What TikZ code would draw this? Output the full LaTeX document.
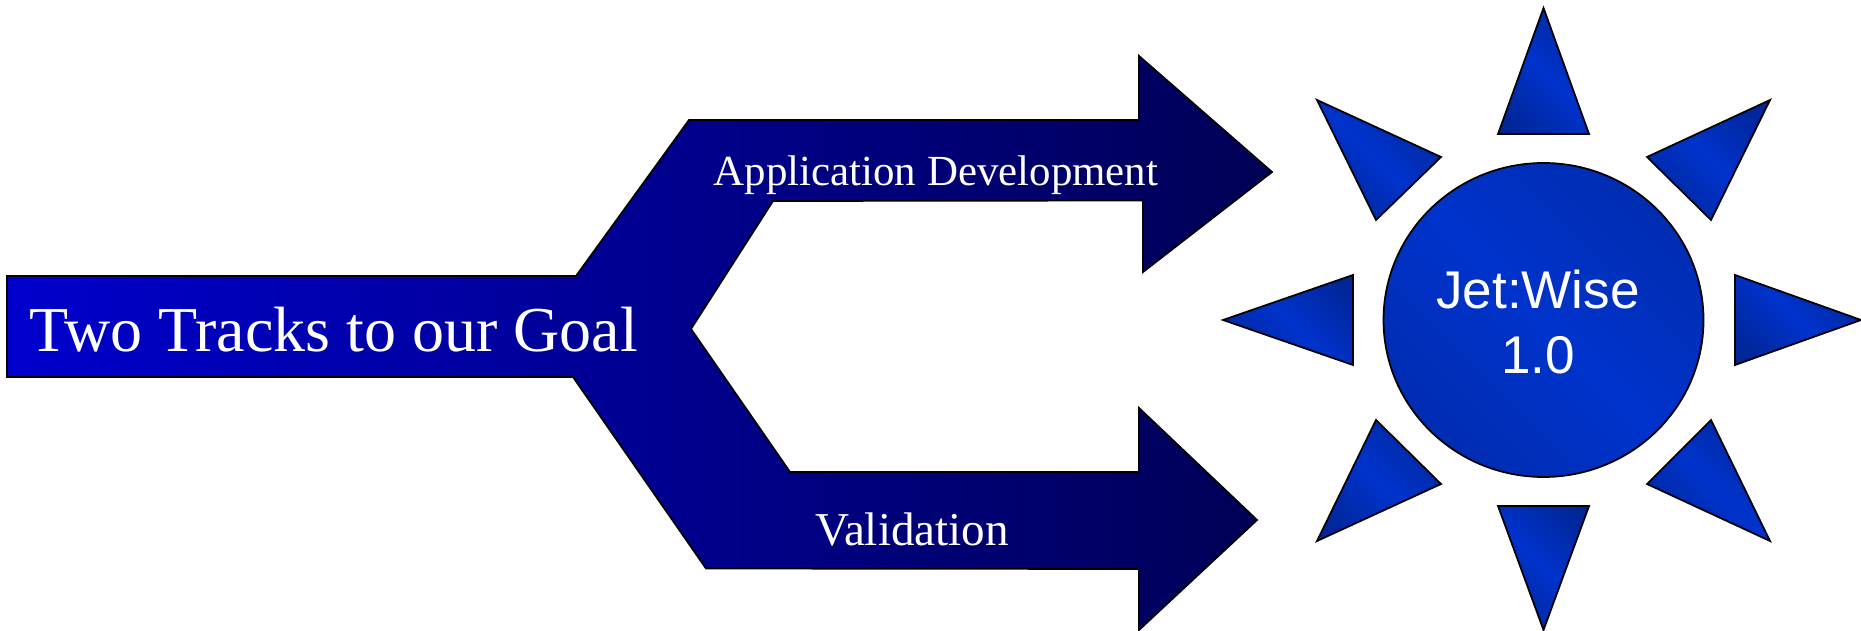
\documentclass[tikz,border=0pt]{standalone}
\usepackage{fontspec}
\setmainfont{Liberation Serif}
\newfontfamily\labelsans{Liberation Sans}
\definecolor{forkleft}{RGB}{0,0,205}
\definecolor{forkright}{RGB}{0,0,85}
\definecolor{raydark}{RGB}{0,28,115}
\definecolor{raylight}{RGB}{0,51,204}
\definecolor{discdark}{RGB}{0,38,150}
% soft diagonal band: dark at two opposite corners, bright along the other diagonal
\pgfdeclareverticalshading{raysoft}{100bp}{color(0bp)=(raydark); color(50bp)=(raylight); color(100bp)=(raydark)}
\pgfdeclareverticalshading{discsoft}{100bp}{color(0bp)=(discdark); color(50bp)=(raylight); color(100bp)=(discdark)}
\begin{document}
\begin{tikzpicture}[x=0.01cm,y=-0.01cm,
  outline/.style={draw=black,line width=0.5pt,line join=miter},
  fork/.style={outline,left color=forkleft,right color=forkright},
  ray/.style={outline,shading=raysoft,shading angle=-45},
  disc/.style={outline,shading=discsoft,shading angle=-45},
  label/.style={text=white,inner sep=0pt,anchor=base},
]
\useasboundingbox (0,0) rectangle (1861,631);

% the forked arrow: one trunk splitting into two tracks
\path[fork] (7,276) -- (576,276) -- (689,120) -- (1139,120) -- (1139,56)
  -- (1272,172) -- (1143,272) -- (1143,200.5) -- (773,201) -- (691,329)
  -- (790,472) -- (1139,472) -- (1139,408) -- (1257,520) -- (1139,630)
  -- (1139,569) -- (706,568.5) -- (573,377) -- (7,377) -- cycle;

% the sun: centre disc and eight rays
\path[disc] (1543.5,320) ellipse [x radius=160, y radius=157];
\path[ray] (1543.5,8) -- (1589,134) -- (1498,134) -- cycle;
\path[ray] (1543.5,630) -- (1589,506) -- (1498,506) -- cycle;
\path[ray] (1223,320) -- (1353,275) -- (1353,365) -- cycle;
\path[ray] (1861,320) -- (1735,275) -- (1735,365) -- cycle;
\path[ray] (1317,100) -- (1441,157) -- (1376,220) -- cycle;
\path[ray] (1770,100) -- (1647,157) -- (1711,220) -- cycle;
\path[ray] (1317,541) -- (1441,484) -- (1376,420) -- cycle;
\path[ray] (1770,541) -- (1647,484) -- (1711,420) -- cycle;

% labels
\node[label,font=\fontsize{18.2pt}{21pt}\selectfont] (goal) at (334,351.5) {Two Tracks to our Goal};
\node[label,font=\fontsize{12.2pt}{14pt}\selectfont] (appdev) at (936,186) {Application Development};
\node[label,font=\fontsize{13.4pt}{16pt}\selectfont] (valid) at (912,546) {Validation};
\node[label,font=\labelsans\fontsize{15.1pt}{18pt}\selectfont] (jetwise) at (1538,309) {Jet:Wise};
\node[label,font=\labelsans\fontsize{15.1pt}{18pt}\selectfont] (version) at (1538,374) {1.0};
\end{tikzpicture}
\end{document}
